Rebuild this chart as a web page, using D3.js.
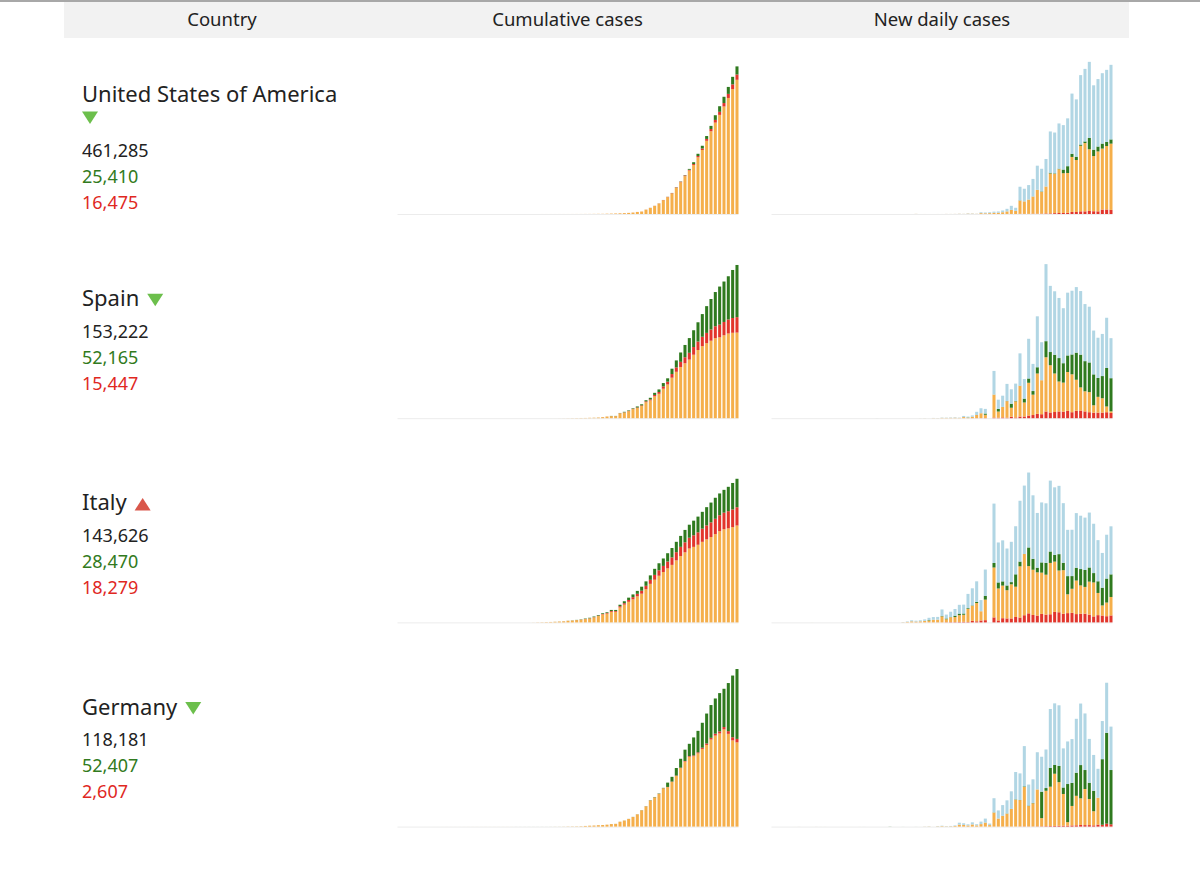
<!DOCTYPE html>
<html>
<head>
<meta charset="utf-8">
<script src="https://cdn.jsdelivr.net/npm/d3@7"></script>
<style>
  body { margin: 0; background: #fff; }
  svg { display: block; font-family: 'Noto Sans', 'Open Sans', sans-serif; }
</style>
</head>
<body>
<div id="chart"></div>
<script>
// days Jan 22 .. Apr 9 2020 (79 bars)
const dates = d3.timeDays(new Date(2020, 0, 22), new Date(2020, 3, 10)).map(d3.timeFormat('%Y-%m-%d'));

const columns = ['Country', 'Cumulative cases', 'New daily cases'];
const countries = ['United States of America', 'Spain', 'Italy', 'Germany'];
const trend = ['down', 'down', 'up', 'down'];

// cumulative confirmed / deaths / recovered, one value per day
const usConfirmed = [1,1,2,2,5,5,5,5,5,7,
  8,8,11,11,11,11,11,11,11,11,12,12,13,13,13,13,13,13,13,13,15,15,15,51,51,57,58,60,68,
  74,98,118,149,217,262,402,518,583,959,1281,1663,2179,2727,3499,4632,6421,7783,13747,19273,25600,33276,43847,53740,65778,83836,101657,121465,140909,161831,188172,
  213242,243622,275367,308650,336802,366317,397121,428654,461285];
const usDeaths = [0,0,0,0,0,0,0,0,0,0,
  0,0,0,0,0,0,0,0,0,0,0,0,0,0,0,0,0,0,0,0,0,0,0,0,0,0,0,0,1,
  1,6,7,11,12,14,17,21,22,28,36,40,47,54,63,85,108,118,200,244,307,427,552,706,942,1209,1581,2026,2467,2978,3873,
  4757,5926,7087,8407,9619,10783,12722,14695,16475];
const usRecovered = [0,0,0,0,0,0,0,0,0,0,
  0,0,0,0,0,0,0,0,3,3,3,3,3,3,3,3,3,3,3,3,5,5,5,5,5,5,5,5,5,
  7,7,7,7,7,7,7,7,7,7,8,8,12,12,12,12,17,17,105,121,147,176,178,348,361,681,869,1072,2665,5644,7024,
  8474,9001,9707,14652,17448,19581,21763,23559,25410];

const esConfirmed = [0,0,0,0,0,0,0,0,0,0,
  1,1,1,1,1,1,1,1,2,2,2,2,2,2,2,2,2,2,2,2,2,2,2,2,6,13,15,32,45,
  84,120,165,222,259,400,500,673,1073,1695,2277,2277,5232,6391,7798,9942,11748,13910,17963,20410,25374,28768,35136,39885,49515,57786,65719,73235,80110,87956,95923,
  104118,112065,119199,126168,131646,136675,141942,148220,153222];
const esDeaths = [0,0,0,0,0,0,0,0,0,0,
  0,0,0,0,0,0,0,0,0,0,0,0,0,0,0,0,0,0,0,0,0,0,0,0,0,0,0,0,0,
  0,0,1,2,3,5,10,17,28,35,54,55,133,195,289,342,533,623,830,1043,1375,1772,2311,2808,3647,4365,5138,5982,6803,7716,8464,
  9387,10348,11198,11947,12641,13341,14045,14792,15447];
const esRecovered = [0,0,0,0,0,0,0,0,0,0,
  0,0,0,0,0,0,0,0,0,0,0,0,0,0,2,2,2,2,2,2,2,2,2,2,2,2,2,2,2,
  2,2,2,2,2,2,30,30,32,32,183,183,193,517,517,530,1028,1081,1107,1588,2125,2575,3355,3355,5367,7015,9357,12285,14709,16780,19259,
  22647,26743,30513,34219,38080,40437,43208,48021,52165];

const itConfirmed = [0,0,0,0,0,0,0,0,0,2,
  2,2,2,2,2,2,3,3,3,3,3,3,3,3,3,3,3,3,3,3,20,62,155,229,322,453,655,888,1128,
  1694,2036,2502,3089,3858,4636,5883,7375,9172,10149,12462,12462,17660,21157,24747,27980,31506,35713,41035,47021,53578,59138,63927,69176,74386,80589,86498,92472,97689,101739,105792,
  110574,115242,119827,124632,128948,132547,135586,139422,143626];
const itDeaths = [0,0,0,0,0,0,0,0,0,0,
  0,0,0,0,0,0,0,0,0,0,0,0,0,0,0,0,0,0,0,0,1,2,3,7,10,12,17,21,29,
  34,52,79,107,148,197,233,366,463,631,827,827,1266,1441,1809,2158,2503,2978,3405,4032,4825,5476,6077,6820,7503,8215,9134,10023,10779,11591,12428,
  13155,13915,14681,15362,15887,16523,17127,17669,18279];
const itRecovered = [0,0,0,0,0,0,0,0,0,0,
  0,0,0,0,0,0,0,0,0,0,0,0,0,0,0,0,0,0,0,0,0,1,2,1,1,3,45,46,46,
  83,149,160,276,414,523,589,622,724,724,1045,1045,1439,1966,2335,2749,2941,4025,4440,4440,6072,7024,7432,8326,9362,10361,10950,12384,13030,14620,15729,
  16847,18278,19758,20996,21815,22837,24392,26491,28470];

const deConfirmed = [0,0,0,0,0,1,4,4,4,5,
  8,10,12,12,12,12,13,13,14,14,16,16,16,16,16,16,16,16,16,16,16,16,16,16,17,27,46,48,79,
  130,159,196,262,482,670,799,1040,1176,1457,1908,2078,3675,4585,5795,7272,9257,12327,15320,19848,22213,24873,29056,32986,37323,43938,50871,57695,62095,66885,71808,
  77872,84794,91159,96092,100123,103374,107663,113296,118181];
const deDeaths = [0,0,0,0,0,0,0,0,0,0,
  0,0,0,0,0,0,0,0,0,0,0,0,0,0,0,0,0,0,0,0,0,0,0,0,0,0,0,0,0,
  0,0,0,0,0,0,0,0,2,2,3,3,7,9,11,17,24,28,44,67,84,94,123,157,206,267,342,433,533,645,775,
  920,1107,1275,1444,1584,1810,2016,2349,2607];
const deRecovered = [0,0,0,0,0,0,0,0,0,0,
  0,0,0,0,0,0,0,0,0,0,0,1,1,1,1,1,1,12,12,12,14,14,14,16,16,16,16,16,16,
  16,16,16,16,16,17,17,18,18,18,25,25,46,46,46,67,67,105,113,180,233,266,266,3243,3547,5673,6658,8481,9211,13500,16100,
  18700,22440,24575,26400,28700,28700,36081,46300,52407];

const confirmed = [usConfirmed, esConfirmed, itConfirmed, deConfirmed];
const deaths = [usDeaths, esDeaths, itDeaths, deDeaths];
const recovered = [usRecovered, esRecovered, itRecovered, deRecovered];

const colors = {
  active: '#f5af4b',
  deaths: '#e2352b',
  recovered: '#2f7a1f',
  confirmed: '#b1d6e4'
};

const width = 1200;
const height = 871;
const rowStep = 204.2;
const chartH = 160;

const svg = d3.select('#chart')
  .append('svg')
  .attr('width', width)
  .attr('height', height);

// header
svg.append('rect').attr('x', 0).attr('y', 0).attr('width', width).attr('height', 2).attr('fill', '#a8a8a8');
svg.append('rect').attr('x', 64).attr('y', 2).attr('width', 1065).attr('height', 36).attr('fill', '#f2f2f2');

const colCenter = [222, 567.5, 942];
svg.selectAll('.colhead')
  .data(columns)
  .enter()
  .append('text')
  .attr('x', (d, i) => colCenter[i])
  .attr('y', 26)
  .attr('text-anchor', 'middle')
  .style('font-size', '18.5px')
  .style('fill', '#222')
  .text(d => d);

const cumX = d3.scaleBand().domain(dates).range([397.5, 738.5]).paddingInner(0.3);
const dayX = d3.scaleBand().domain(dates).range([771.5, 1112.5]).paddingInner(0.3);

function drawBars(g, rows, keys, x, base) {
  const stacked = d3.stack().keys(keys)(rows);
  const y = d3.scaleLinear()
    .domain([0, d3.max(stacked[stacked.length - 1], d => d[1])])
    .nice()
    .range([base, base - chartH]);

  g.append('line')
    .attr('x1', x.range()[0])
    .attr('x2', x.range()[1])
    .attr('y1', base + 0.5)
    .attr('y2', base + 0.5)
    .attr('stroke', '#ececec');

  g.selectAll('.layer')
    .data(stacked)
    .enter()
    .append('g')
    .attr('fill', d => colors[d.key])
    .selectAll('rect')
    .data(d => d)
    .enter()
    .append('rect')
    .attr('x', d => x(d.data.date))
    .attr('width', x.bandwidth())
    .attr('y', d => y(d[1]))
    .attr('height', d => Math.max(0, y(d[0]) - y(d[1])));
}

countries.forEach((name, r) => {
  const base = 214 + r * rowStep;
  const g = svg.append('g');
  const c = confirmed[r], dd = deaths[r], rc = recovered[r];

  // cumulative: active, deaths, recovered
  const cumRows = dates.map((date, i) => ({
    date: date,
    active: c[i] - dd[i] - rc[i],
    deaths: dd[i],
    recovered: rc[i]
  }));
  drawBars(g, cumRows, ['active', 'deaths', 'recovered'], cumX, base);

  // daily changes
  const dayRows = dates.map((date, i) => {
    const nc = Math.max(0, c[i] - (i ? c[i - 1] : 0));
    const nd = Math.max(0, dd[i] - (i ? dd[i - 1] : 0));
    const nr = Math.max(0, rc[i] - (i ? rc[i - 1] : 0));
    return { date: date, deaths: nd, active: Math.max(0, nc - nd - nr), recovered: nr, confirmed: nc };
  });
  drawBars(g, dayRows, ['deaths', 'active', 'recovered', 'confirmed'], dayX, base);

  // country text block
  const nameY = base - 112;
  const label = g.append('text')
    .attr('x', 82)
    .attr('y', nameY)
    .style('font-size', '22px')
    .style('fill', '#222')
    .text(name);
  const w = label.node().getComputedTextLength();

  let tx = 82 + w + 8;
  let tBase = nameY;
  let shift = 0;
  if (tx + 16 > 340) {
    tx = 82;
    tBase = nameY + 22;
    shift = 23;
  }
  const tri = trend[r] === 'down'
    ? [[tx, tBase - 12.5], [tx + 16, tBase - 12.5], [tx + 8, tBase]]
    : [[tx + 8, tBase - 12.5], [tx + 16, tBase], [tx, tBase]];
  g.append('path')
    .attr('d', d3.line()(tri) + 'Z')
    .attr('fill', trend[r] === 'down' ? '#6cbf4c' : '#d9574b');

  const last = c.length - 1;
  const figures = [c[last], rc[last], dd[last]];
  const figColors = ['#222', '#317a20', '#e0281f'];
  g.selectAll('.fig')
    .data(figures)
    .enter()
    .append('text')
    .attr('x', 82)
    .attr('y', (d, i) => nameY + 31.5 + shift + i * 26)
    .style('font-size', '18px')
    .style('fill', (d, i) => figColors[i])
    .text(d => d3.format(',')(d));
});
</script>
</body>
</html>
